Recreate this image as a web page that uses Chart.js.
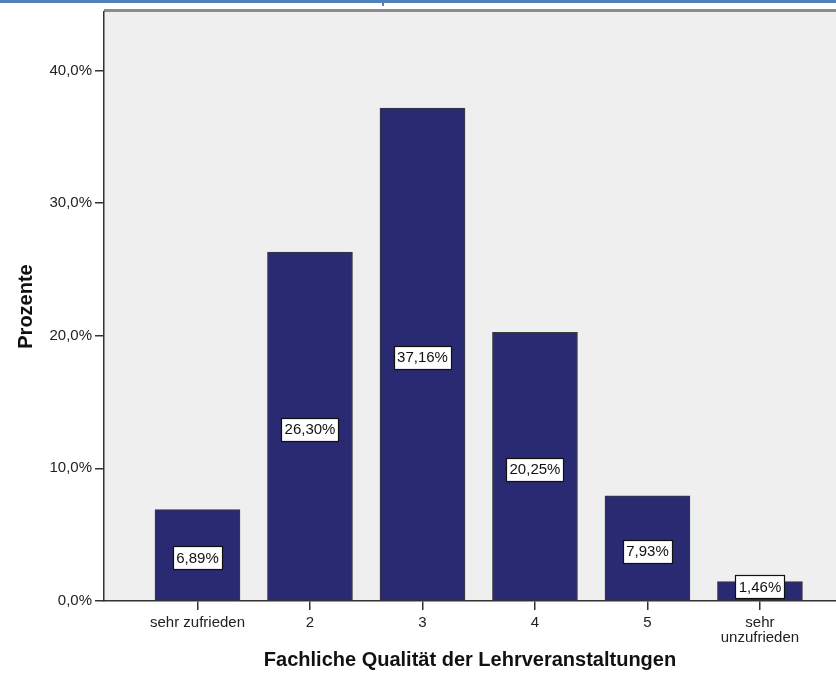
<!DOCTYPE html>
<html>
<head>
<meta charset="utf-8">
<script src="https://cdn.jsdelivr.net/npm/chart.js@4"></script>
<style>
  body { margin: 0; background: #fff; }
</style>
</head>
<body>
<canvas id="qualityChart" width="836" height="680"></canvas>
<script>
const categories = ['sehr zufrieden', '2', '3', '4', '5', ['sehr', 'unzufrieden']];
const percentValues = [6.89, 26.30, 37.16, 20.25, 7.93, 1.46];
const yTickValues = [0, 10, 20, 30, 40];

Chart.defaults.font.family = '"Liberation Sans", Arial, sans-serif';

const fmt = (v, d) => v.toFixed(d).replace('.', ',');

// grey plot box + the blue strip on top of the screenshot
const plotBackground = {
  id: 'plotBackground',
  beforeDraw(chart) {
    const { ctx, chartArea: a } = chart;
    ctx.save();
    ctx.fillStyle = '#4f81bd';
    ctx.fillRect(0, 0, chart.width, 3);
    ctx.fillRect(382, 0, 2, 6);
    ctx.fillStyle = '#efefef';
    ctx.fillRect(a.left, a.top, a.right - a.left, a.bottom - a.top);
    ctx.fillStyle = '#8c8c8c';
    ctx.fillRect(a.left, a.top - 3, a.right - a.left, 3);
    ctx.restore();
  }
};

// white value boxes in the middle of each bar
const barLabels = {
  id: 'barLabels',
  afterDatasetsDraw(chart) {
    const { ctx, chartArea } = chart;
    const meta = chart.getDatasetMeta(0);
    ctx.save();
    ctx.font = '15px "Liberation Sans", Arial, sans-serif';
    ctx.textAlign = 'center';
    ctx.textBaseline = 'middle';
    meta.data.forEach((bar, i) => {
      const text = fmt(percentValues[i], 2) + '%';
      const w = Math.round(ctx.measureText(text).width + 6);
      const h = 23;
      let cy = (bar.y + bar.base) / 2 + 3;
      cy = Math.min(cy, chartArea.bottom - 3 - h / 2);
      const x0 = Math.round(bar.x - w / 2) + 0.5;
      const y0 = Math.round(cy - h / 2) + 0.5;
      ctx.fillStyle = '#fff';
      ctx.fillRect(x0, y0, w, h);
      ctx.strokeStyle = '#111';
      ctx.lineWidth = 1.2;
      ctx.strokeRect(x0, y0, w, h);
      ctx.fillStyle = '#111';
      ctx.fillText(text, bar.x, cy + 1);
    });
    ctx.restore();
  }
};

new Chart(document.getElementById('qualityChart'), {
  type: 'bar',
  data: {
    datasets: [{
      data: percentValues.map((v, i) => ({ x: i + 1, y: v })),
      backgroundColor: '#2a2a72',
      borderColor: '#3a3a3a',
      borderWidth: 1,
      barThickness: 85
    }]
  },
  options: {
    responsive: false,
    animation: false,
    layout: { padding: { top: 12, right: 0, left: 0, bottom: 0 } },
    plugins: {
      legend: { display: false },
      tooltip: { enabled: false }
    },
    scales: {
      x: {
        type: 'linear',
        min: 0.169,
        max: 6.676,
        offset: false,
        afterBuildTicks: s => { s.ticks = categories.map((c, i) => ({ value: i + 1 })); },
        grid: { drawOnChartArea: false, drawTicks: true, tickLength: 9, color: '#333', lineWidth: 1.5, offset: false },
        border: { display: true, color: '#333', width: 1.5 },
        ticks: {
          autoSkip: false,
          maxRotation: 0,
          padding: 5,
          color: '#222',
          font: { size: 15, lineHeight: 1.0 },
          callback: (v, i) => categories[i]
        },
        title: {
          display: true,
          text: 'Fachliche Qualität der Lehrveranstaltungen',
          color: '#111',
          font: { size: 20, weight: 'bold' },
          padding: { top: 0, bottom: 8 }
        },
        afterFit: s => { s.height = 79; }
      },
      y: {
        min: 0,
        max: 44.4,
        afterBuildTicks: s => { s.ticks = yTickValues.map(v => ({ value: v })); },
        grid: { drawOnChartArea: false, tickLength: 9, color: '#333', lineWidth: 1.5 },
        border: { display: true, color: '#333', width: 1.5 },
        ticks: {
          padding: 3,
          color: '#222',
          font: { size: 15 },
          callback: v => fmt(v, 1) + '%'
        },
        title: {
          display: true,
          text: 'Prozente',
          color: '#111',
          font: { size: 20, weight: 'bold' },
          padding: { top: 14, bottom: 0 }
        },
        afterFit: s => { s.width = 104; }
      }
    }
  },
  plugins: [plotBackground, barLabels]
});
</script>
</body>
</html>
